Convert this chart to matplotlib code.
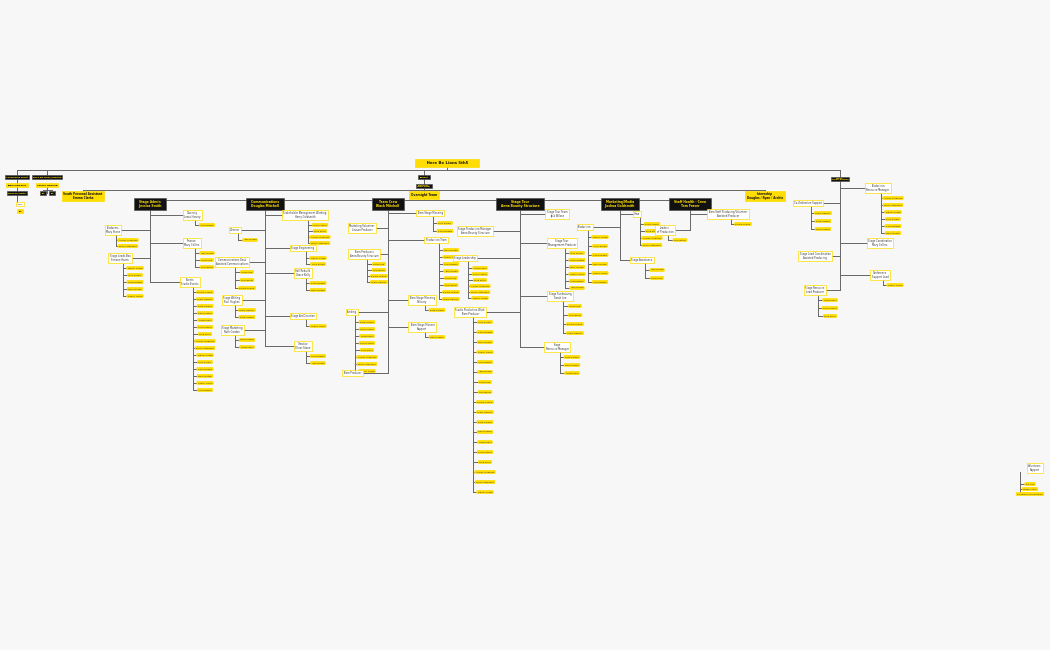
import matplotlib.pyplot as plt

YEL = "#ffdd00"
BLK = "#111111"
LINE = "#666666"

# top row: (label, x, y, style)
top_nodes = [
    ("Leadership Right", 17, 177, "black"),
    ("Here Be Lions/Theatre", 47, 177, "black"),
    ("Impact", 424, 177, "black"),
    ("Leads\nLions Gordon", 840, 179, "black"),
]

depts = [
    ("Stage Admin\nJessica Smith", 150),
    ("Communications\nDouglas Mitchell", 265),
    ("Team Crew\nBlack Mitchell", 388),
    ("Stage Tour\nAnna Bounty Structure", 520),
    ("Marketing/Media\nJoshua Goldsmith", 620),
    ("Staff Health - Crew\nTom Fraser", 690),
]

names = ["Ashley Stephens", "Mindy Stephens", "Daniel Green", "Lucy Brown",
         "Katie Rogers", "Mary Blythe", "Simon Harris", "Anna Brown",
         "Jack Wilson", "Sarah Lee", "Tom Baker", "Emma Clarke", "Lewis Harvey",
         "Ruth Gordon", "Paul Hughes", "Grace Kelly", "Oliver Stone", "Nina Patel"]

# groups per department: (parent x, label, x, y, style, item count, item spacing)
groups = [
    (150, "Producers\nMary Stone", 113, 230, "white", 2, 6),
    (150, "Stage Leads Box\nSimone Harris", 120, 258, "white", 5, 7),
    (150, "Diversity\nLewis Harvey", 192, 215, "white", 1, 8),
    (150, "Finance\nMary Collins", 192, 243, "white", 3, 7),
    (150, "Events\nStudio Events", 190, 282, "white", 15, 7),
    (265, "Director", 235, 230, "white", 1, 7),
    (265, "Communications Desk\nAssisted Communications", 232, 262, "white", 3, 8),
    (265, "Stage Writing\nPaul Hughes", 232, 300, "white", 2, 7),
    (265, "Stage Marketing\nRuth Gordon", 232, 330, "white", 2, 7),
    (265, "Stakeholder Management Working\nHarry Goldsmith", 305, 215, "white", 4, 6),
    (265, "Stage Engineering", 303, 248, "white", 2, 6),
    (265, "Hall Rebuild\nGrace Kelly", 303, 273, "white", 2, 7),
    (265, "Stage Art Direction", 303, 316, "white", 1, 9),
    (265, "Creative\nOliver Stone", 303, 346, "white", 2, 7),
    (388, "Marketing Volunteer\nLiaison Producer", 362, 228, "white", 0, 7),
    (388, "Team Producers\nAnna Bounty Structure", 364, 254, "white", 4, 6),
    (388, "Funding", 352, 312, "white", 8, 7),
    (388, "Team Producer", 352, 373, "white", 0, 7),
    (388, "Team Stage Manning", 430, 213, "white", 2, 8),
    (388, "Production Team", 436, 240, "white", 8, 7),
    (388, "Team Stage Manning\nDelivery", 422, 300, "white", 1, 9),
    (388, "Team Stage Manner\nSupport", 422, 327, "white", 1, 10),
    (520, "Stage Production Manager\nAnna Bounty Structure", 475, 231, "white", 0, 7),
    (520, "Stage Leadership", 465, 258, "white", 6, 6),
    (520, "Studio Production Work\nTeam Producer", 470, 312, "white", 18, 10),
    (520, "Stage Tour Team\nJack Wilson", 557, 214, "white", 0, 7),
    (520, "Stage Tour\nManagement Producer", 562, 243, "white", 6, 7),
    (520, "Stage Fundraising\nSarah Lee", 560, 296, "white", 4, 9),
    (520, "Stage\nResource Manager", 557, 347, "white", 3, 8),
    (620, "Crew", 637, 214, "white", 4, 7),
    (620, "Production", 585, 227, "white", 6, 9),
    (620, "Stage Assistance", 642, 260, "white", 2, 8),
    (690, "Leaders\nof Production", 665, 230, "white", 1, 10),
    (690, "Team Staff Producing Volunteer\nAssisted Producer", 728, 214, "white", 1, 12),
    (840, "Co-Ordination Support", 808, 203, "white", 3, 8),
    (840, "Stage Lead Coordination\nAssisted Producing", 815, 256, "white", 0, 7),
    (840, "Stage Resource\nLead Producer", 815, 290, "white", 3, 8),
    (840, "Production\nResource Manager", 878, 188, "white", 6, 7),
    (840, "Stage Coordination\nMary Collins", 880, 243, "white", 0, 7),
    (840, "Conference\nSupport Lead", 880, 275, "white", 1, 12),
]

fig = plt.figure(figsize=(10.5, 6.5), dpi=100, facecolor="#f7f7f7")
ax = fig.add_axes([0, 0, 1, 1])
ax.set_xlim(0, 1050)
ax.set_ylim(650, 0)
ax.axis("off")


def box(x, y, label, style, fs=1.8):
    if style == "black":
        fc, ec, tc, w = BLK, "#555555", YEL, "bold"
    elif style == "yellow":
        fc, ec, tc, w = YEL, YEL, BLK, "bold"
    else:
        fc, ec, tc, w = "white", YEL, "#333333", "normal"
    if style == "item":
        fc, ec = YEL, YEL
    ax.text(x, y, label, ha="center", va="center", fontsize=fs, color=tc,
            fontweight=w, linespacing=1.0,
            bbox=dict(boxstyle="round,pad=0.45" if style == "item" else "square,pad=0.5",
                      fc=fc, ec=ec, lw=0.5), zorder=3)


def seg(xs, ys):
    ax.plot(xs, ys, color=LINE, lw=0.7, zorder=1)


# root and top lines
seg([17, 840], [170, 170])
seg([447, 447], [163, 170])
box(447, 163, "       Here Be Lions 5th5       ", "yellow", 2.8)
for lab, x, y, st in top_nodes:
    seg([x, x], [170, y])
    box(x, y, lab, st, 1.6)

seg([840, 840], [179, 290])
seg([17, 17], [177, 197])
box(17, 185, "Team Members", "yellow", 1.6)
box(17, 193, "Duncan Smith", "black", 1.6)
seg([17, 17, 20], [193, 204, 204])
box(20, 204, "Intern", "white", 1.5)
box(20, 211, "Kit", "yellow", 1.5)
box(47, 185, "Season Ongoing", "yellow", 1.6)
seg([47, 47], [185, 193])
seg([43, 52], [190, 190])
box(43, 193, "Kit", "black", 1.5)
box(52, 193, "Kit", "black", 1.5)

seg([424, 424], [177, 200])
box(424, 186, "Producer\nNina Patel", "black", 1.6)
seg([83, 765], [190, 190])
box(424, 195, "Oversight Team", "yellow", 2.2)
seg([83, 83], [190, 196])
box(83, 196, "South Personal Assistant\nEmma Clarke", "yellow", 2.0)
seg([765, 765], [190, 196])
box(765, 196, "Internship\nDouglas / Ryan / Archie", "yellow", 2.0)

seg([150, 690], [200, 200])
dept_bottom = {}
for px, lab, gx, gy, st, n, sp in groups:
    dept_bottom[px] = max(dept_bottom.get(px, 0), gy)
for lab, x in depts:
    seg([x, x], [200, dept_bottom[x]])
    box(x, 204, "   " + lab.replace("\n", "   \n   ") + "   ", "black", 2.2)

k = 0
for px, lab, gx, gy, st, n, sp in groups:
    seg([px, gx], [gy, gy])
    box(gx, gy, lab, st)
    if n:
        sx = gx + 3
        last = gy + 10 + (n - 1) * sp
        seg([sx, sx], [gy, last])
        for i in range(n):
            iy = gy + 10 + i * sp
            seg([sx, sx + 6], [iy, iy])
            box(sx + 12, iy, names[k % len(names)], "item", 1.6)
            k += 1

# isolated cluster bottom right
box(1035, 468, "Volunteers\nSupport", "white")
seg([1020, 1020], [472, 494])
for i, nm in enumerate(["Kit Hire", "Stage Assist", "Volunteer Coordination"]):
    iy = 484 + i * 5
    seg([1020, 1026], [iy, iy])
    box(1030, iy, nm, "item", 1.6)

fig.savefig("out.png", dpi=100, facecolor=fig.get_facecolor())
